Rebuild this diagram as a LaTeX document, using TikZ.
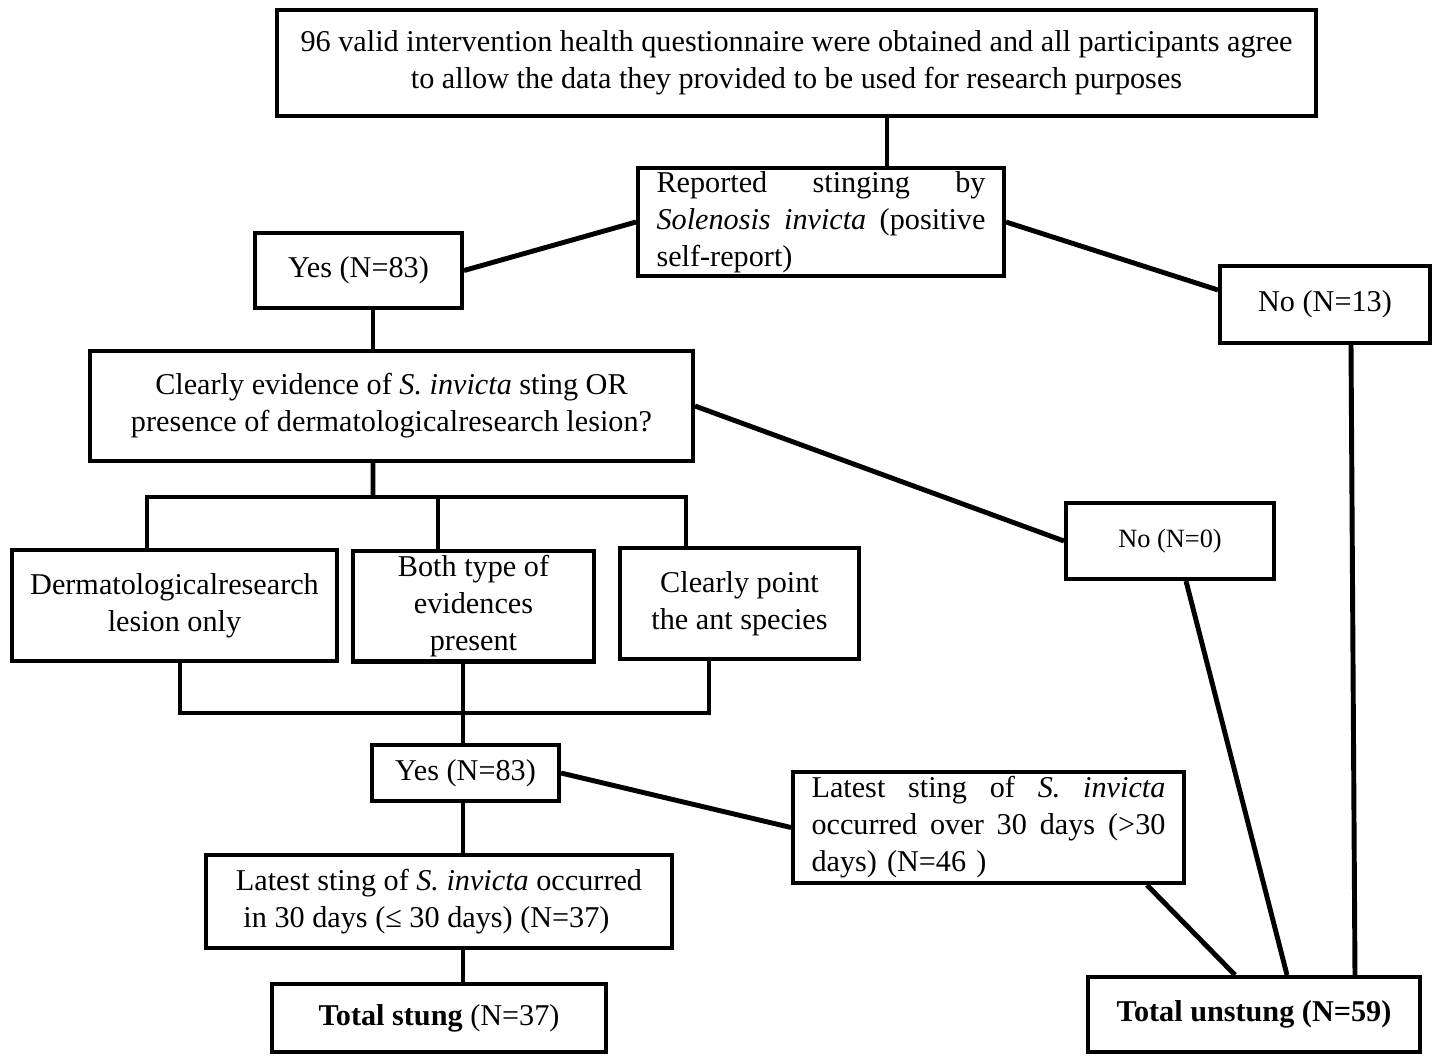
\documentclass[tikz,border=0pt]{standalone}
\usepackage{fontspec}
\setmainfont{Liberation Serif}
\newcommand{\spread}[2]{\leavevmode\hbox to #1{#2}}

\begin{document}
\begin{tikzpicture}[
  x=0.02cm, y=-0.02cm,
  box/.style = {draw, line width=2.3pt, inner sep=0pt, align=center,
                font=\fontsize{17.2}{21}\selectfont},
  link/.style = {line width=2.8pt}
]
\useasboundingbox (0,0) rectangle (1432,1055);

% Nodes top part
\node[box, minimum width=20.78cm, minimum height=2.12cm] (start) at (796.5,63)
  {96 valid intervention health questionnaire were obtained and all participants agree\\
   to allow the data they provided to be used for research purposes};
\node[box, minimum width=7.32cm, minimum height=2.16cm, text width=6.58cm, align=left] (report) at (821,222)
  {\spread{6.58cm}{Reported\hfill stinging\hfill by}\\
   \spread{6.58cm}{\textit{Solenosis}\hfill\textit{invicta}\hfill(positive}\\
   self-report)};
\node[box, minimum width=4.14cm, minimum height=1.5cm] (yesA) at (358.5,270.5) {Yes (N=83)};
\node[box, minimum width=4.2cm, minimum height=1.54cm] (noA) at (1325,304.5) {No (N=13)};

% Nodes evidence check
\node[box, minimum width=12.06cm, minimum height=2.2cm] (evid) at (391.5,406)
  {Clearly evidence of \textit{S. invicta} sting OR\\
   presence of dermatologicalresearch lesion?};
\node[box, minimum width=4.16cm, minimum height=1.52cm, font=\fontsize{15}{18}\selectfont] (noB) at (1170,541) {No (N=0)};
\node[box, minimum width=6.5cm, minimum height=2.22cm] (derm) at (174.5,605.5)
  {Dermatologicalresearch\\ lesion only};
\node[box, minimum width=4.82cm, minimum height=2.22cm] (both) at (473.5,606)
  {Both type of\\ evidences\\ present};
\node[box, minimum width=4.78cm, minimum height=2.22cm] (point) at (739.5,603.5)
  {Clearly point\\ the ant species};

% Nodes timing
\node[box, minimum width=3.74cm, minimum height=1.12cm] (yesB) at (465.5,773) {Yes (N=83)};
\node[box, minimum width=7.82cm, minimum height=2.22cm, text width=7.08cm, align=left] (late) at (988.5,827.5)
  {\spread{7.08cm}{Latest\hfill sting\hfill of\hfill \textit{S.}\hfill\textit{invicta}}\\
   \spread{7.08cm}{occurred\hfill over\hfill 30\hfill days\hfill (>30}\\
   days) (N=46 )};
\node[box, minimum width=9.32cm, minimum height=1.86cm, align=left] (recent) at (439,901.5)
  {Latest sting of \textit{S. invicta} occurred\\
   \ in 30 days (≤ 30 days) (N=37)};

% Totals
\node[box, minimum width=6.68cm, minimum height=1.36cm] (stung) at (439,1018)
  {\textbf{Total stung} (N=37)};
\node[box, minimum width=6.64cm, minimum height=1.5cm] (unstung) at (1254,1014.5)
  {\textbf{Total unstung (N=59)}};

% Helper points
\coordinate (busT) at (373,497);
\coordinate (busB) at (463,713);

% Links top part
\draw[link] ([xshift=1.32cm]report.north) -- ([xshift=1.32cm]report.north |- start.south);
\draw[link] (report.west) -- (yesA.east);
\draw[link] (report.east) -- ([yshift=0.29cm]noA.west);
\draw[link] ([xshift=0.29cm]yesA.south) -- ([xshift=0.29cm]yesA.south |- evid.north);

% Links evidence check
\draw[link] (evid.east) -- (noB.west);
\draw[link] ([xshift=-0.37cm]evid.south) -- (busT);
\draw[link] ([xshift=-0.55cm]derm.north) |- (busT) -| ([xshift=-1.07cm]point.north);
\draw[link] ([xshift=-0.71cm]both.north) -- ([xshift=-0.71cm]both.north |- busT);
\draw[link] ([xshift=0.11cm]derm.south) |- (busB) -| ([xshift=-0.61cm]point.south);
\draw[link] ([xshift=-0.21cm]both.south) -- ([xshift=-0.21cm]both.south |- yesB.north);

% Links timing
\draw[link] ([xshift=-0.05cm]yesB.south) -- ([xshift=-0.05cm]yesB.south |- recent.north);
\draw[link] (yesB.east) -- (late.west);
\draw[link] ([xshift=0.48cm]recent.south) -- ([xshift=0.48cm]recent.south |- stung.north);

% Links to total unstung
\draw[link] ([xshift=3.17cm]late.south) -- ([xshift=-0.38cm]unstung.north);
\draw[link] ([xshift=0.32cm]noB.south) -- ([xshift=0.66cm]unstung.north);
\draw[link] ([xshift=0.52cm]noA.south) -- ([xshift=2.02cm]unstung.north);
\end{tikzpicture}
\end{document}
